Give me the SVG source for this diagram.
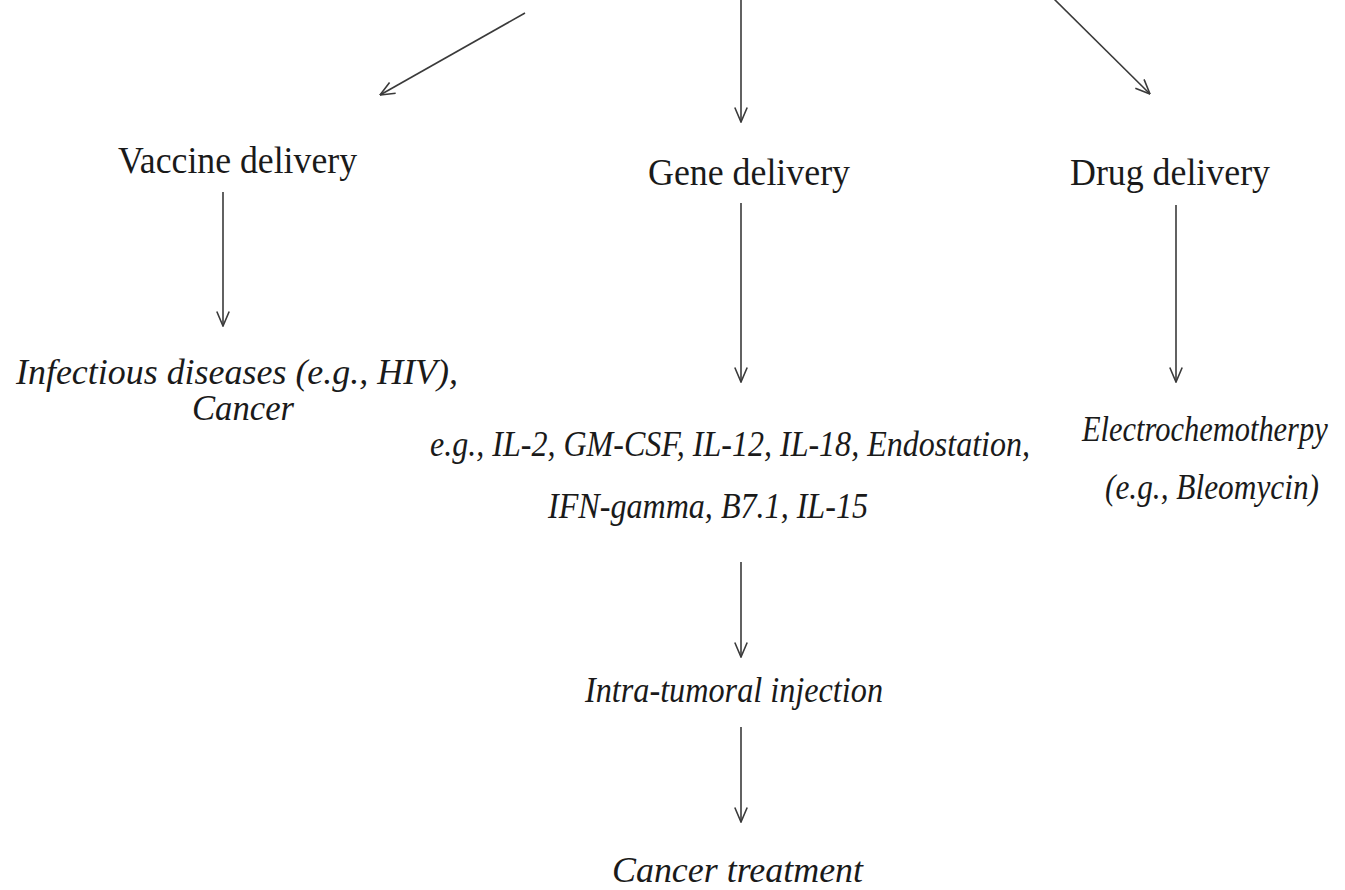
<svg xmlns="http://www.w3.org/2000/svg" width="1345" height="890" viewBox="0 0 1345 890">
<style>
.t{font-family:"Liberation Serif","Times New Roman",serif;fill:#1a1a1a}
.h{font-size:38px}
.i{font-size:35px;font-style:italic}
.c{stroke:#3a3a3a;stroke-width:1.6;fill:none}
</style>
<defs>
<marker id="ah" markerUnits="userSpaceOnUse" viewBox="0 0 16 14" refX="15.5" refY="7" markerWidth="16" markerHeight="14" orient="auto">
<path d="M1,0.8 L15.5,7 L1,13.2" fill="none" stroke="#3a3a3a" stroke-width="1.6"/>
</marker>
</defs>
<rect width="1345" height="890" fill="#ffffff"/>
<g id="connectors">
<line class="c" x1="525" y1="13" x2="380" y2="95" marker-end="url(#ah)"/>
<line class="c" x1="741" y1="0" x2="741" y2="122" marker-end="url(#ah)"/>
<line class="c" x1="1050" y1="-5" x2="1150" y2="94" marker-end="url(#ah)"/>
<line class="c" x1="223" y1="192" x2="223" y2="326" marker-end="url(#ah)"/>
<line class="c" x1="741" y1="203" x2="741" y2="382" marker-end="url(#ah)"/>
<line class="c" x1="1176" y1="205" x2="1176" y2="382" marker-end="url(#ah)"/>
<line class="c" x1="741" y1="562" x2="741" y2="657" marker-end="url(#ah)"/>
<line class="c" x1="741" y1="727" x2="741" y2="822" marker-end="url(#ah)"/>
</g>
<g id="vaccine">
<text class="t h" x="118" y="173" textLength="239" lengthAdjust="spacingAndGlyphs">Vaccine delivery</text>
</g>
<g id="gene">
<text class="t h" x="648" y="185" textLength="202" lengthAdjust="spacingAndGlyphs">Gene delivery</text>
</g>
<g id="drug">
<text class="t h" x="1070" y="185" textLength="200" lengthAdjust="spacingAndGlyphs">Drug delivery</text>
</g>
<g id="infectious">
<text class="t i" x="16" y="384" textLength="442" lengthAdjust="spacingAndGlyphs">Infectious diseases (e.g., HIV),</text>
<text class="t i" x="192" y="420" textLength="102" lengthAdjust="spacingAndGlyphs">Cancer</text>
</g>
<g id="examples">
<text class="t i" x="430" y="456" textLength="600" lengthAdjust="spacingAndGlyphs">e.g., IL-2, GM-CSF, IL-12, IL-18, Endostation,</text>
<text class="t i" x="548" y="518" textLength="320" lengthAdjust="spacingAndGlyphs">IFN-gamma, B7.1, IL-15</text>
</g>
<g id="electro">
<text class="t i" transform="translate(1082,441) scale(0.87,1)" x="0" y="0">Electrochemotherpy</text>
<text class="t i" x="1105" y="499" textLength="214" lengthAdjust="spacingAndGlyphs">(e.g., Bleomycin)</text>
</g>
<g id="injection">
<text class="t i" x="585" y="702" textLength="298" lengthAdjust="spacingAndGlyphs">Intra-tumoral injection</text>
</g>
<g id="treatment">
<text class="t i" x="612" y="882" textLength="251" lengthAdjust="spacingAndGlyphs">Cancer treatment</text>
</g>
</svg>
